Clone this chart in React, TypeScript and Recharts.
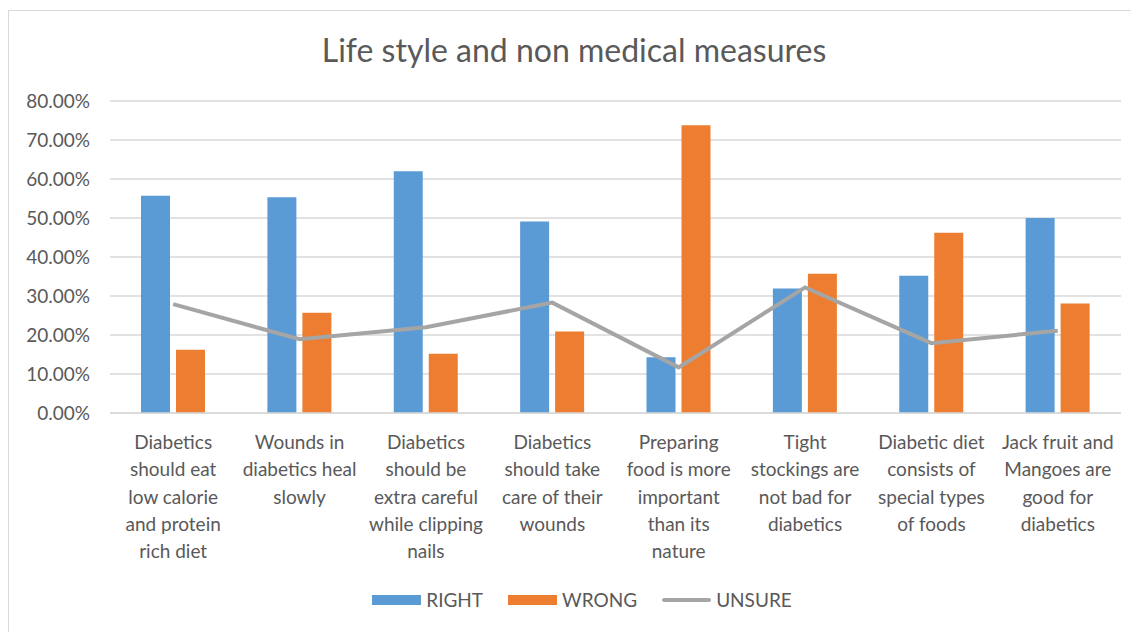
import React from 'react';
import { ComposedChart, Bar, Line, XAxis, YAxis, CartesianGrid, Legend } from 'recharts';

const categories = [
  'Diabetics\nshould eat\nlow calorie\nand protein\nrich diet',
  'Wounds in\ndiabetics heal\nslowly',
  'Diabetics\nshould be\nextra careful\nwhile clipping\nnails',
  'Diabetics\nshould take\ncare of their\nwounds',
  'Preparing\nfood is more\nimportant\nthan its\nnature',
  'Tight\nstockings are\nnot bad for\ndiabetics',
  'Diabetic diet\nconsists of\nspecial types\nof foods',
  'Jack fruit and\nMangoes are\ngood for\ndiabetics',
];
const rightValues = [55.7, 55.3, 62.0, 49.1, 14.3, 31.9, 35.2, 50.0];
const wrongValues = [16.2, 25.7, 15.2, 20.9, 73.8, 35.7, 46.2, 28.1];
const unsureValues = [27.9, 18.9, 22.0, 28.3, 11.7, 32.2, 17.9, 21.1];
const yTicks = [0, 10, 20, 30, 40, 50, 60, 70, 80];

const data = categories.map((c, i) => ({
  name: c,
  RIGHT: rightValues[i],
  WRONG: wrongValues[i],
  UNSURE: unsureValues[i],
}));

const FONT = 'Lato, "Open Sans", sans-serif';
const TEXT = '#595959';

const XTick = (props: any) => {
  const { x, y, payload } = props;
  const lines = String(payload.value).split('\n');
  return (
    <text x={x} y={y} textAnchor="middle" fill={TEXT} fontSize={19} fontFamily={FONT}>
      {lines.map((l, i) => (
        <tspan key={i} x={x} y={y + 34 + i * 27.3}>{l}</tspan>
      ))}
    </text>
  );
};

const LegendContent = () => {
  const item = (label: string, color: string, isLine: boolean, last: boolean) => (
    <div style={{ display: 'flex', alignItems: 'center', marginRight: last ? 0 : 25 }}>
      <div
        style={{
          width: 49,
          height: isLine ? 4 : 10,
          background: color,
          borderRadius: isLine ? 2 : 0,
          marginRight: 5,
        }}
      />
      <span style={{ fontFamily: FONT, fontSize: 19, color: TEXT }}>{label}</span>
    </div>
  );
  return (
    <div style={{ display: 'flex', justifyContent: 'center', alignItems: 'center', paddingLeft: 16 }}>
      {item('RIGHT', '#5b9bd5', false, false)}
      {item('WRONG', '#ed7d31', false, false)}
      {item('UNSURE', '#a5a5a5', true, true)}
    </div>
  );
};

export default function App() {
  return (
    <div
      style={{
        position: 'relative',
        marginTop: 2,
        width: 1140,
        height: 630,
        border: '1px solid #d9d9d9',
        boxSizing: 'border-box',
        background: '#fff',
      }}
    >
      <div
        style={{
          position: 'absolute',
          top: 19,
          left: 0,
          width: 1130,
          textAlign: 'center',
          fontFamily: FONT,
          fontSize: 32,
          color: TEXT,
        }}
      >
        Life style and non medical measures
      </div>
      <ComposedChart
        width={1130}
        height={620}
        data={data}
        margin={{ top: 90, right: 18, bottom: 0, left: 0 }}
        barGap={6}
      >
        <CartesianGrid vertical={false} stroke="#d9d9d9" strokeWidth={1.5} />
        <XAxis
          dataKey="name"
          axisLine={{ stroke: '#d9d9d9', strokeWidth: 1.5 }}
          tickLine={false}
          tickSize={0}
          tick={<XTick />}
          height={195}
          interval={0}
        />
        <YAxis
          domain={[0, 80]}
          ticks={yTicks}
          width={101}
          axisLine={false}
          tickLine={false}
          tickSize={0}
          tickMargin={20}
          tickFormatter={(v: number) => `${v.toFixed(2)}%`}
          tick={{ fill: TEXT, fontSize: 19, fontFamily: FONT }}
        />
        <Legend
          content={<LegendContent />}
          wrapperStyle={{ position: 'absolute', top: 577, left: 0, width: 1130 }}
        />
        <Bar dataKey="RIGHT" fill="#5b9bd5" barSize={29} isAnimationActive={false} />
        <Bar dataKey="WRONG" fill="#ed7d31" barSize={29} isAnimationActive={false} />
        <Line
          type="linear"
          dataKey="UNSURE"
          stroke="#a5a5a5"
          strokeWidth={4}
          dot={false}
          activeDot={false}
          isAnimationActive={false}
        />
      </ComposedChart>
    </div>
  );
}
